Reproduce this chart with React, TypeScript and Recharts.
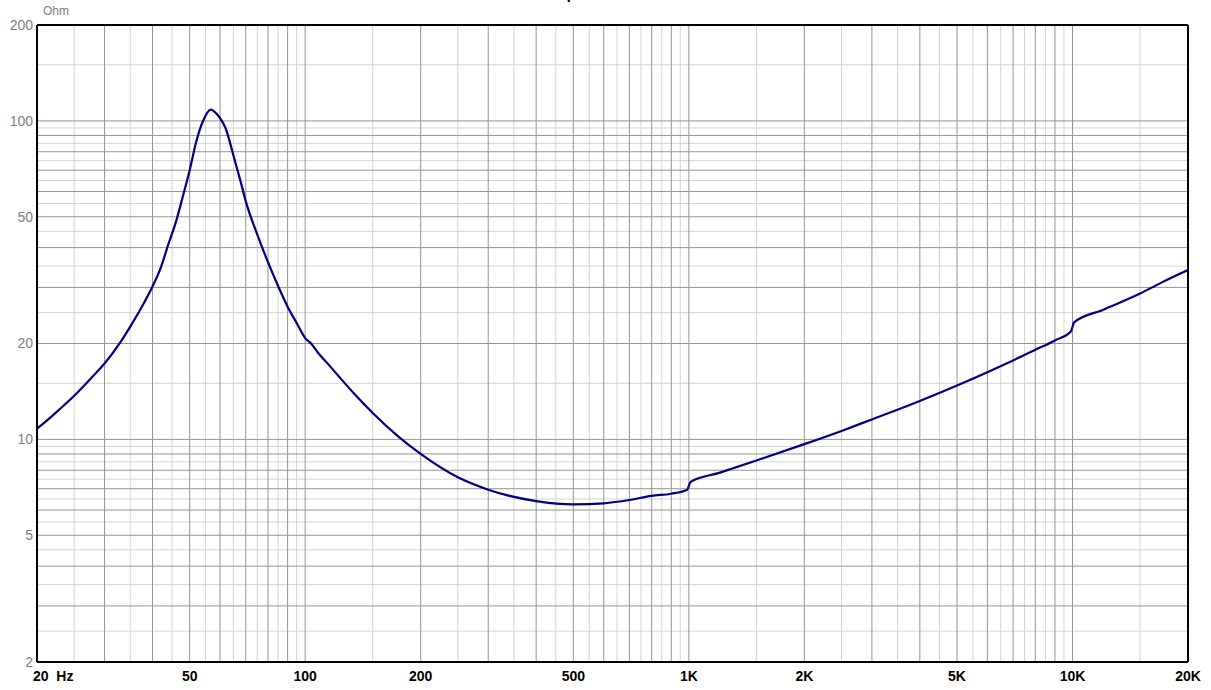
import React from 'react';
import { LineChart, Line, XAxis, YAxis, ReferenceLine } from 'recharts';

// impedance curve (Hz / Ohm)
const freqs = [
  20, 22, 25, 28, 30, 33, 35, 38, 40, 42, 44, 46, 48, 50, 52, 54, 56.8, 58, 60,
  62, 65, 68, 70, 75, 80, 85, 90, 95, 100, 104, 108, 115, 120, 135, 150, 175, 200,
  250, 300, 400, 500, 600, 700, 800, 900, 990, 1010, 1200, 1500, 2000, 2500,
  3000, 4000, 5000, 6000, 7000, 8000, 9000, 9900, 10100, 12000, 15000, 17000, 20000,
];
const ohms = [
  10.8, 11.9, 13.7, 15.8, 17.3, 20.2, 22.6, 26.8, 30.2, 34.5, 41, 48, 58, 70, 86, 99, 108.5, 107, 102,
  95, 78, 64, 56, 44, 36, 30.3, 26.1, 23.2, 20.8, 19.9, 18.7, 17.2, 16.2, 13.8, 12.1, 10.2, 9.0,
  7.6, 6.95, 6.4, 6.25, 6.3, 6.45, 6.65, 6.75, 6.95, 7.35, 7.85, 8.58, 9.66, 10.63,
  11.55, 13.2, 14.76, 16.25, 17.7, 19.1, 20.45, 21.8, 23.3, 25.5, 28.7, 31.0, 34.0,
];

const xTicks = [20, 50, 100, 200, 500, 1000, 2000, 5000, 10000, 20000];
const xTickLabels = ['20  Hz', '50', '100', '200', '500', '1K', '2K', '5K', '10K', '20K'];
const yTicks = [2, 5, 10, 20, 50, 100, 200];

const data = freqs.map((f, i) => ({ f, z: ohms[i] }));

// grid: dark lines at 2..9 x 10^k, light ones at the halves (only 1.5 inside 1..2)
function gridValues(lo: number, hi: number) {
  const major: number[] = [];
  const minor: number[] = [];
  for (let p = 1; p <= hi; p *= 10) {
    for (let m = 1; m < 10; m++) {
      const v = m * p;
      if (v > lo && v < hi) major.push(v);
      const h = (m + 0.5) * p;
      if (h > lo && h < hi) minor.push(h);
    }
  }
  return { major, minor };
}

const xGrid = gridValues(20, 20000);
const yGrid = gridValues(2, 200);

const DARK = '#939393';
const LIGHT = '#d4d4d4';
const FONT = 'Arial, Liberation Sans, sans-serif';

const XTick = (props: any) => {
  const { x, y, payload } = props;
  const i = xTicks.indexOf(payload.value);
  const first = i === 0;
  return (
    <text
      x={first ? x - 4 : x}
      y={y + 19}
      textAnchor={first ? 'start' : 'middle'}
      fontFamily={FONT}
      fontWeight="bold"
      fontSize={14}
      fill="#000"
      style={{ whiteSpace: 'pre' }}
    >
      {xTickLabels[i]}
    </text>
  );
};

export default function App() {
  return (
    <div style={{ position: 'absolute', top: 0, left: 0, width: 1211, height: 690, background: '#fff', overflow: 'hidden' }}>
      <div
        style={{
          position: 'absolute', top: -15, left: 0, width: 1211, textAlign: 'center',
          fontFamily: FONT, fontWeight: 'bold', fontSize: 16, paddingRight: 32,
          boxSizing: 'border-box',
        }}
      >
        Impedance
      </div>
      <div style={{ position: 'absolute', top: 4, left: 43, fontFamily: FONT, fontSize: 12, color: '#808080' }}>
        Ohm
      </div>
      <LineChart width={1211} height={690} data={data} margin={{ top: 25, right: 23, bottom: 0, left: 0 }}>
        <XAxis
          dataKey="f"
          type="number"
          scale="log"
          domain={[20, 20000]}
          ticks={xTicks}
          interval={0}
          height={28}
          tickLine={false}
          tickSize={0}
          tickMargin={0}
          axisLine={false}
          tick={<XTick />}
          allowDataOverflow
        />
        <YAxis
          type="number"
          scale="log"
          domain={[2, 200]}
          ticks={yTicks}
          interval={0}
          width={37}
          tickLine={false}
          tickSize={0}
          tickMargin={4}
          axisLine={false}
          tick={{ fill: '#808080', fontSize: 14, fontFamily: FONT }}
          allowDataOverflow
        />

        {xGrid.minor.map((v) => (
          <ReferenceLine key={`xm${v}`} x={v} stroke={LIGHT} strokeWidth={1} />
        ))}
        {yGrid.minor.map((v) => (
          <ReferenceLine key={`ym${v}`} y={v} stroke={LIGHT} strokeWidth={1} />
        ))}
        {xGrid.major.map((v) => (
          <ReferenceLine key={`xM${v}`} x={v} stroke={DARK} strokeWidth={1} />
        ))}
        {yGrid.major.map((v) => (
          <ReferenceLine key={`yM${v}`} y={v} stroke={DARK} strokeWidth={1} />
        ))}

        {/* frame */}
        <ReferenceLine x={20} stroke="#000" strokeWidth={2} />
        <ReferenceLine x={20000} stroke="#000" strokeWidth={2} />
        <ReferenceLine y={2} stroke="#000" strokeWidth={2} />
        <ReferenceLine y={200} stroke="#000" strokeWidth={2} />

        <Line
          dataKey="z"
          type="monotone"
          stroke="#000080"
          strokeWidth={2.2}
          dot={false}
          isAnimationActive={false}
        />
      </LineChart>
    </div>
  );
}
